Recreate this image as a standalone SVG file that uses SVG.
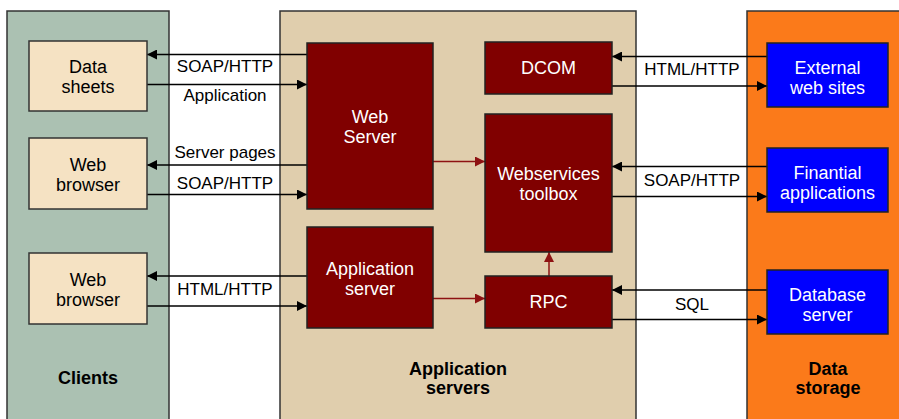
<svg xmlns="http://www.w3.org/2000/svg" width="899" height="419" viewBox="0 0 899 419">
<defs>
<marker id="ah" markerWidth="10" markerHeight="10" refX="10" refY="5" orient="auto" markerUnits="userSpaceOnUse"><path d="M0,0 L10,5 L0,10 Z" fill="#000"/></marker>
<marker id="ahr" markerWidth="10" markerHeight="10" refX="10" refY="5" orient="auto" markerUnits="userSpaceOnUse"><path d="M0,0 L10,5 L0,10 Z" fill="#8e1212"/></marker>
<style>
.panel{stroke:#333;stroke-width:1.5}
.cl{fill:#f5e2c3;stroke:#333;stroke-width:1.5}
.srv{fill:#800000;stroke:#222;stroke-width:1.5}
.ds{fill:#0000ff;stroke:#222;stroke-width:1.5}
text{font-family:"Liberation Sans",Arial,sans-serif;text-anchor:middle}
.nt{font-size:18px;fill:#000}
.wt{font-size:18px;fill:#fff}
.lb{font-size:17px;fill:#000}
.tt{font-size:18px;font-weight:bold;fill:#000}
.c{stroke:#000;stroke-width:1.5;fill:none;marker-end:url(#ah)}
.r{stroke:#8e1212;stroke-width:1.5;fill:none;marker-end:url(#ahr)}
</style>
</defs>
<rect width="899" height="419" fill="#fff"/>
<g id="panel-clients"><rect class="panel" x="7" y="11" width="162" height="420" fill="#abc1b2"/><text class="tt" x="88" y="384">Clients</text></g>
<g id="panel-app"><rect class="panel" x="280" y="11" width="356" height="420" fill="#e0cead"/><text class="tt" x="458" y="375">Application</text><text class="tt" x="458" y="394">servers</text></g>
<g id="panel-data"><rect class="panel" x="747" y="11" width="170" height="420" fill="#fb7a1a"/><text class="tt" x="828" y="375">Data</text><text class="tt" x="828" y="394">storage</text></g>

<g id="connectors">
<line class="c" x1="307" y1="54.5" x2="147" y2="54.5"/>
<line class="c" x1="147" y1="84.5" x2="307" y2="84.5"/>
<line class="c" x1="307" y1="165" x2="147" y2="165"/>
<line class="c" x1="147" y1="194.5" x2="307" y2="194.5"/>
<line class="c" x1="307" y1="276" x2="147" y2="276"/>
<line class="c" x1="147" y1="306" x2="307" y2="306"/>
<line class="c" x1="767" y1="56.5" x2="612" y2="56.5"/>
<line class="c" x1="612" y1="86" x2="767" y2="86"/>
<line class="c" x1="767" y1="166.5" x2="612" y2="166.5"/>
<line class="c" x1="612" y1="196.5" x2="767" y2="196.5"/>
<line class="c" x1="767" y1="290" x2="612" y2="290"/>
<line class="c" x1="612" y1="319.5" x2="767" y2="319.5"/>
<line class="r" x1="433" y1="161.5" x2="485" y2="161.5"/>
<line class="r" x1="433" y1="298.5" x2="485" y2="298.5"/>
<line class="r" x1="549" y1="276" x2="549" y2="252"/>
<text class="lb" x="225" y="72">SOAP/HTTP</text>
<text class="lb" x="225" y="101">Application</text>
<text class="lb" x="225" y="158">Server pages</text>
<text class="lb" x="225" y="189">SOAP/HTTP</text>
<text class="lb" x="225" y="295">HTML/HTTP</text>
<text class="lb" x="692" y="75">HTML/HTTP</text>
<text class="lb" x="692" y="186">SOAP/HTTP</text>
<text class="lb" x="692" y="310">SQL</text>
</g>

<g id="node-datasheets"><rect class="cl" x="29" y="41" width="118" height="70"/><text class="nt" x="88" y="73">Data</text><text class="nt" x="88" y="93">sheets</text></g>
<g id="node-webbrowser1"><rect class="cl" x="29" y="138" width="118" height="71"/><text class="nt" x="88" y="171">Web</text><text class="nt" x="88" y="191">browser</text></g>
<g id="node-webbrowser2"><rect class="cl" x="29" y="253" width="118" height="71"/><text class="nt" x="88" y="286">Web</text><text class="nt" x="88" y="306">browser</text></g>

<g id="node-webserver"><rect class="srv" x="307" y="43" width="126" height="166"/><text class="wt" x="370" y="123">Web</text><text class="wt" x="370" y="143">Server</text></g>
<g id="node-appserver"><rect class="srv" x="307" y="227" width="126" height="101"/><text class="wt" x="370" y="275">Application</text><text class="wt" x="370" y="295">server</text></g>
<g id="node-dcom"><rect class="srv" x="485" y="42" width="127" height="52"/><text class="wt" x="548.5" y="74">DCOM</text></g>
<g id="node-webservices"><rect class="srv" x="485" y="114" width="127" height="138"/><text class="wt" x="548.5" y="180">Webservices</text><text class="wt" x="548.5" y="200">toolbox</text></g>
<g id="node-rpc"><rect class="srv" x="485" y="276" width="127" height="52"/><text class="wt" x="548.5" y="308">RPC</text></g>

<g id="node-external"><rect class="ds" x="767" y="43" width="121" height="64"/><text class="wt" x="827.5" y="74">External</text><text class="wt" x="827.5" y="94">web sites</text></g>
<g id="node-finantial"><rect class="ds" x="767" y="148" width="121" height="64"/><text class="wt" x="827.5" y="179">Finantial</text><text class="wt" x="827.5" y="199">applications</text></g>
<g id="node-database"><rect class="ds" x="767" y="270" width="121" height="64"/><text class="wt" x="827.5" y="301">Database</text><text class="wt" x="827.5" y="321">server</text></g>
</svg>
